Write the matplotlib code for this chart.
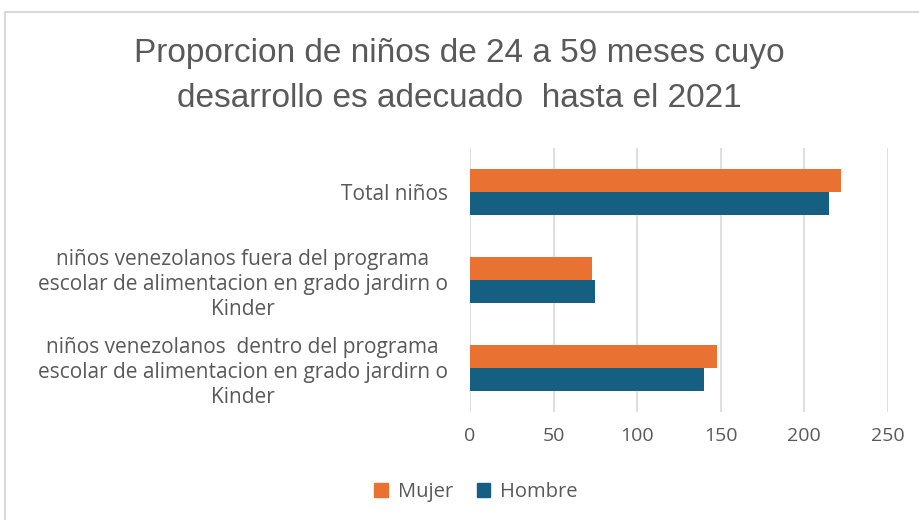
import matplotlib
matplotlib.use("Agg")
import matplotlib.pyplot as plt
from matplotlib.patches import Rectangle, Patch
from matplotlib import font_manager
import numpy as np

categories = [
    "niños venezolanos  dentro del programa\nescolar de alimentacion en grado jardirn o\nKinder",
    "niños venezolanos fuera del programa\nescolar de alimentacion en grado jardirn o\nKinder",
    "Total niños",
]
mujer = [148, 73, 222]
hombre = [140, 75, 215]
xticks = [0, 50, 100, 150, 200, 250]
title = "Proporcion de niños de 24 a 59 meses cuyo\ndesarrollo es adecuado  hasta el 2021"

c_mujer = "#E97132"
c_hombre = "#156082"
gray = "#595959"

names = {f.name for f in font_manager.fontManager.ttflist}
title_font = "Liberation Sans Narrow" if "Liberation Sans Narrow" in names else "Liberation Sans"
title_size = 27 if title_font == "Liberation Sans Narrow" else 24

fig = plt.figure(figsize=(9.19, 5.2), dpi=100)
ax = fig.add_axes([470/919, 1-412/520, (887.7-470)/919, (412-148)/520])

y = np.arange(len(categories))
h = 0.26
ax.barh(y + h/2, mujer, height=h, color=c_mujer, label="Mujer", zorder=3)
ax.barh(y - h/2, hombre, height=h, color=c_hombre, label="Hombre", zorder=3)

ax.set_xlim(0, 250)
ax.set_ylim(-0.5, 2.5)
ax.set_xticks(xticks)
ax.set_xticklabels([str(v) for v in xticks], fontsize=14, color=gray, family="Open Sans")
ax.set_yticks(y)
ax.set_yticklabels(categories, fontsize=15, color=gray, family="Open Sans",
                   multialignment="center", linespacing=1.25)
ax.tick_params(axis="both", length=0)
ax.tick_params(axis="y", pad=16)
ax.tick_params(axis="x", pad=11)
ax.grid(axis="x", color="#D9D9D9", linewidth=1.2, zorder=0)
for s in ax.spines.values():
    s.set_visible(False)

fig.text(0.5, 1-76/520, title, ha="center", va="center", fontsize=title_size, color=gray,
         family=[title_font, "DejaVu Sans"], linespacing=1.6)

handles = [Patch(color=c_mujer, label="Mujer"), Patch(color=c_hombre, label="Hombre")]
fig.legend(handles=handles, loc="center", bbox_to_anchor=(476/919, 1-492/520), ncol=2,
           frameon=False, prop={"family": "Open Sans", "size": 14.5}, labelcolor=gray,
           handlelength=0.65, handleheight=0.65, handletextpad=0.5, columnspacing=1.2)

fig.add_artist(Rectangle((5/919, -0.05), 1.0, 1-12/520+0.05, transform=fig.transFigure,
                         fill=False, edgecolor="#D9D9D9", linewidth=1.5))

fig.savefig("out.png", dpi=100, facecolor="white")
